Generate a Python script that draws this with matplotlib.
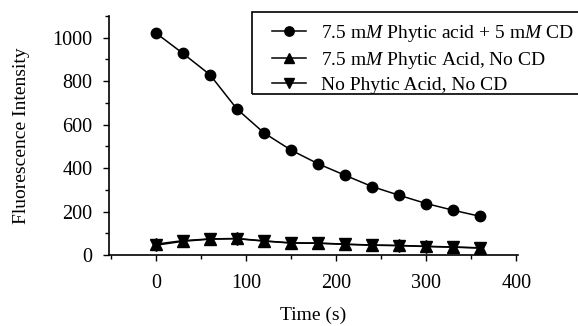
import matplotlib
matplotlib.use('Agg')
import matplotlib.pyplot as plt
from matplotlib.patches import Rectangle
from matplotlib.ticker import MultipleLocator

plt.rcParams['font.family'] = 'Liberation Serif'
plt.rcParams['mathtext.fontset'] = 'custom'
plt.rcParams['mathtext.it'] = 'Liberation Serif:italic'
plt.rcParams['mathtext.rm'] = 'Liberation Serif'

# Time points (s)
time = [0, 30, 60, 90, 120, 150, 180, 210, 240, 270, 300, 330, 360]

# fluorescence readings
with_cd = [1022, 928, 830, 672, 562, 483, 420, 367, 315, 275, 237, 206, 178]
phytic_no_cd = [50, 66, 74, 76, 65, 56, 55, 50, 46, 44, 40, 37, 33]
no_phytic_no_cd = [45, 63, 73, 75, 64, 55, 54, 49, 45, 43, 39, 36, 32]

labels = ['7.5 m$M$ Phytic acid + 5 m$M$ CD',
          '7.5 m$M$ Phytic Acid, No CD',
          'No Phytic Acid, No CD']

fig = plt.figure(figsize=(5.78, 3.26), dpi=100)
ax = fig.add_axes([109/578, 71/326, (518-109)/578, (255-16)/326])

ax.plot(time, with_cd, color='black', marker='o', markersize=7.5, lw=1.1, label=labels[0])
ax.plot(time, phytic_no_cd, color='black', marker='^', markersize=8, lw=1.1, label=labels[1])
ax.plot(time, no_phytic_no_cd, color='black', marker='v', markersize=8, lw=1.1, label=labels[2])

ax.set_xlim(-52, 402)
ax.set_ylim(0, 1100)
ax.xaxis.set_major_locator(MultipleLocator(100))
ax.xaxis.set_minor_locator(MultipleLocator(50))
ax.yaxis.set_major_locator(MultipleLocator(200))
ax.yaxis.set_minor_locator(MultipleLocator(100))
ax.tick_params(which='major', length=4, width=1, labelsize=14.5)
ax.tick_params(axis='x', which='major', pad=10)
ax.tick_params(axis='y', which='major', pad=8)
ax.tick_params(which='minor', length=3, width=1)
for side in ['top', 'right']:
    ax.spines[side].set_visible(False)
for side in ['left', 'bottom']:
    ax.spines[side].set_linewidth(1.2)

ax.set_xlabel('Time (s)', fontsize=14, labelpad=9.5)
ax.set_ylabel('Fluorescence Intensity', fontsize=14, labelpad=16)

# legend box runs off the right edge in the original
fig.add_artist(Rectangle((252/578, 1 - 94/326), 0.6, 82/326, transform=fig.transFigure,
                         fill=False, edgecolor='black', lw=1.2))
leg = ax.legend(loc='upper left', bbox_to_anchor=(272/578, 1 - 23/326),
                bbox_transform=fig.transFigure, fontsize=14, frameon=False,
                handlelength=1.75, handletextpad=0.75, labelspacing=0.3,
                borderpad=0, borderaxespad=0, markerscale=0.9)

fig.savefig('out.png', dpi=100)
